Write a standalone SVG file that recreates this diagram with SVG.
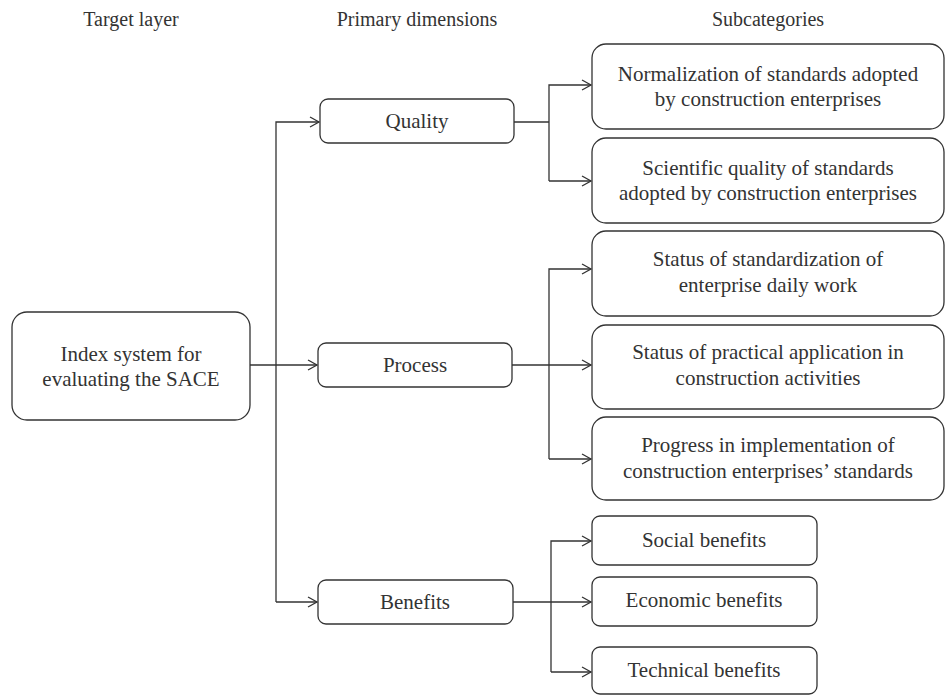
<svg xmlns="http://www.w3.org/2000/svg" width="946" height="695" viewBox="0 0 946 695">
<style>
.box{fill:#fff;stroke:#333;stroke-width:1.3}
.t{font-family:"Liberation Serif","Times New Roman",serif;font-size:21px;fill:#333;text-anchor:middle;dominant-baseline:central}
.h{font-family:"Liberation Serif","Times New Roman",serif;font-size:20px;fill:#333;text-anchor:middle}
.c{fill:none;stroke:#333;stroke-width:1.3}
</style>
<defs>
<marker id="a" markerWidth="12" markerHeight="12" refX="10" refY="6" orient="auto" markerUnits="userSpaceOnUse">
<path d="M1,1 L10,6 L1,11" fill="none" stroke="#333" stroke-width="1.3"/>
</marker>
</defs>
<rect width="946" height="695" fill="#fff"/>
<g id="headers">
<text class="h" x="131" y="26">Target layer</text>
<text class="h" x="417" y="26">Primary dimensions</text>
<text class="h" x="768" y="26">Subcategories</text>
</g>
<g id="connectors">
<path class="c" d="M276,602 V122 H319" marker-end="url(#a)"/>
<path class="c" d="M250,365 H317" marker-end="url(#a)"/>
<path class="c" d="M276,602 H317" marker-end="url(#a)"/>
<path class="c" d="M514,122 H549"/>
<path class="c" d="M549,181 V85 H591" marker-end="url(#a)"/>
<path class="c" d="M549,181 H591" marker-end="url(#a)"/>
<path class="c" d="M512,365 H591" marker-end="url(#a)"/>
<path class="c" d="M549,459 V269 H591" marker-end="url(#a)"/>
<path class="c" d="M549,459 H591" marker-end="url(#a)"/>
<path class="c" d="M513,602 H591" marker-end="url(#a)"/>
<path class="c" d="M551,672 V541 H591" marker-end="url(#a)"/>
<path class="c" d="M551,672 H591" marker-end="url(#a)"/>
</g>
<g id="index">
<rect class="box" x="12" y="312" width="238" height="108" rx="15"/>
<text class="t" x="131" y="354">Index system for</text>
<text class="t" x="131" y="379">evaluating the SACE</text>
</g>
<g id="quality">
<rect class="box" x="320" y="99" width="194" height="44" rx="8"/>
<text class="t" x="417" y="121">Quality</text>
</g>
<g id="process">
<rect class="box" x="318" y="343" width="194" height="44" rx="8"/>
<text class="t" x="415" y="365">Process</text>
</g>
<g id="benefits">
<rect class="box" x="318" y="580" width="195" height="44" rx="8"/>
<text class="t" x="415" y="602">Benefits</text>
</g>
<g id="sub1">
<rect class="box" x="592" y="44" width="352" height="85" rx="14"/>
<text class="t" x="768" y="74">Normalization of standards adopted</text>
<text class="t" x="768" y="99">by construction enterprises</text>
</g>
<g id="sub2">
<rect class="box" x="592" y="138" width="352" height="85" rx="14"/>
<text class="t" x="768" y="168">Scientific quality of standards</text>
<text class="t" x="768" y="193">adopted by construction enterprises</text>
</g>
<g id="sub3">
<rect class="box" x="592" y="231" width="352" height="85" rx="14"/>
<text class="t" x="768" y="259">Status of standardization of</text>
<text class="t" x="768" y="285">enterprise daily work</text>
</g>
<g id="sub4">
<rect class="box" x="592" y="325" width="352" height="84" rx="14"/>
<text class="t" x="768" y="352">Status of practical application in</text>
<text class="t" x="768" y="378">construction activities</text>
</g>
<g id="sub5">
<rect class="box" x="592" y="417" width="352" height="83" rx="14"/>
<text class="t" x="768" y="445">Progress in implementation of</text>
<text class="t" x="768" y="471">construction enterprises’ standards</text>
</g>
<g id="sub6">
<rect class="box" x="592" y="516" width="225" height="49" rx="8"/>
<text class="t" x="704" y="540">Social benefits</text>
</g>
<g id="sub7">
<rect class="box" x="592" y="577" width="225" height="49" rx="8"/>
<text class="t" x="704" y="600">Economic benefits</text>
</g>
<g id="sub8">
<rect class="box" x="592" y="647" width="225" height="47" rx="8"/>
<text class="t" x="704" y="670">Technical benefits</text>
</g>
</svg>
